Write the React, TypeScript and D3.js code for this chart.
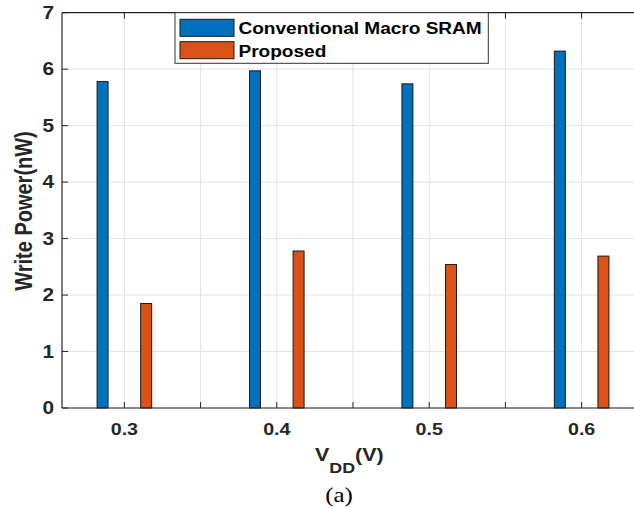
import React from "react";
import * as d3 from "d3";

const categories = [0.3, 0.4, 0.5, 0.6];
const conventional = [5.78, 5.97, 5.74, 6.32];
const proposed = [1.85, 2.78, 2.54, 2.69];
const xTickValues = [0.3, 0.35, 0.4, 0.45, 0.5, 0.55, 0.6];
const xTickLabels = ["0.3", "0.4", "0.5", "0.6"];
const yTickValues = [0, 1, 2, 3, 4, 5, 6, 7];
const seriesNames = ["Conventional Macro SRAM", "Proposed"];
const seriesColors = ["#0072BD", "#D95319"];

const W = 634;
const H = 508;
const L = 62;
const R = 642.6;
const T = 12.7;
const B = 408;
const SX = 1.19;

export default function App() {
  const x = d3.scaleLinear().domain([0.26, 0.64]).range([L + 1.4, R]);
  const y = d3.scaleLinear().domain([0, 7]).range([B, T]);
  const offset = 0.0143;
  const bw = x(0.3072) - x(0.3);
  const series = [conventional, proposed];
  const font = "'Liberation Sans', Arial, sans-serif";
  const tr = (tx: number, ty: number) => `translate(${tx},${ty}) scale(${SX},1)`;
  return (
    <svg
      width={W}
      height={H}
      style={{ position: "absolute", left: 0, top: 0, background: "#fff" }}
    >
      <rect x={0} y={0} width={W} height={H} fill="#fff" />
      {/* grid */}
      {xTickValues.map((v) => (
        <line key={"gx" + v} x1={x(v)} x2={x(v)} y1={T} y2={B} stroke="#e3e3e3" strokeWidth={1} />
      ))}
      {yTickValues.map((v) => (
        <line key={"gy" + v} x1={L} x2={R} y1={y(v)} y2={y(v)} stroke="#e3e3e3" strokeWidth={1} />
      ))}
      {/* bars */}
      {series.map((vals, si) =>
        categories.map((c, i) => {
          const cx = x(c + (si === 0 ? -offset : offset));
          return (
            <rect
              key={"b" + si + "-" + i}
              x={cx - bw / 2}
              y={y(vals[i])}
              width={bw}
              height={y(0) - y(vals[i])}
              fill={seriesColors[si]}
              stroke="#1a1a1a"
              strokeWidth={1}
            />
          );
        })
      )}
      {/* axes box */}
      <line x1={L} x2={R} y1={B} y2={B} stroke="#262626" strokeWidth={1.2} />
      <line x1={L} x2={R} y1={T} y2={T} stroke="#262626" strokeWidth={1.2} />
      <line x1={L} x2={L} y1={T} y2={B} stroke="#262626" strokeWidth={1.2} />
      {xTickValues.map((v) => (
        <g key={"tx" + v}>
          <line x1={x(v)} x2={x(v)} y1={B} y2={B - 6} stroke="#262626" />
          <line x1={x(v)} x2={x(v)} y1={T} y2={T + 6} stroke="#262626" />
        </g>
      ))}
      {yTickValues.map((v) => (
        <line key={"ty" + v} x1={L} x2={L + 6} y1={y(v)} y2={y(v)} stroke="#262626" />
      ))}
      {/* tick labels */}
      {categories.map((c, i) => (
        <text
          key={"xl" + c}
          transform={tr(x(c), 435)}
          textAnchor="middle"
          fontFamily={font}
          fontWeight="bold"
          fontSize={16.5}
          fill="#262626"
        >
          {xTickLabels[i]}
        </text>
      ))}
      {yTickValues.map((v) => (
        <text
          key={"yl" + v}
          transform={tr(54, y(v) + 6.3)}
          textAnchor="end"
          fontFamily={font}
          fontWeight="bold"
          fontSize={17.5}
          fill="#262626"
        >
          {v}
        </text>
      ))}
      {/* axis labels */}
      <text
        transform={`translate(31.5,${211}) scale(${SX},1) rotate(-90)`}
        textAnchor="middle"
        fontFamily={font}
        fontWeight="bold"
        fontSize={20}
        fill="#262626"
      >
        Write Power(nW)
      </text>
      <text transform={tr(315, 460.5)} fontFamily={font} fontWeight="bold" fontSize={18} fill="#262626">
        V
        <tspan fontSize={15} dy={12.5}>DD</tspan>
        <tspan dy={-12.5}>(V)</tspan>
      </text>
      <text
        transform={tr(339, 502)}
        textAnchor="middle"
        fontFamily="'Liberation Serif', 'Times New Roman', serif"
        fontSize={21}
        fill="#000"
      >
        (a)
      </text>
      {/* legend */}
      <rect x={175} y={12.7} width={313.3} height={50.6} fill="#fff" stroke="#333" strokeWidth={1} />
      {seriesNames.map((n, i) => (
        <g key={"lg" + i}>
          <rect
            x={180}
            y={i === 0 ? 19.3 : 41.7}
            width={54}
            height={17}
            fill={seriesColors[i]}
            stroke="#1a1a1a"
            strokeWidth={1}
          />
          <text
            transform={tr(238.5, i === 0 ? 34 : 56.5)}
            fontFamily={font}
            fontWeight="bold"
            fontSize={16}
            fill="#000"
          >
            {n}
          </text>
        </g>
      ))}
    </svg>
  );
}
